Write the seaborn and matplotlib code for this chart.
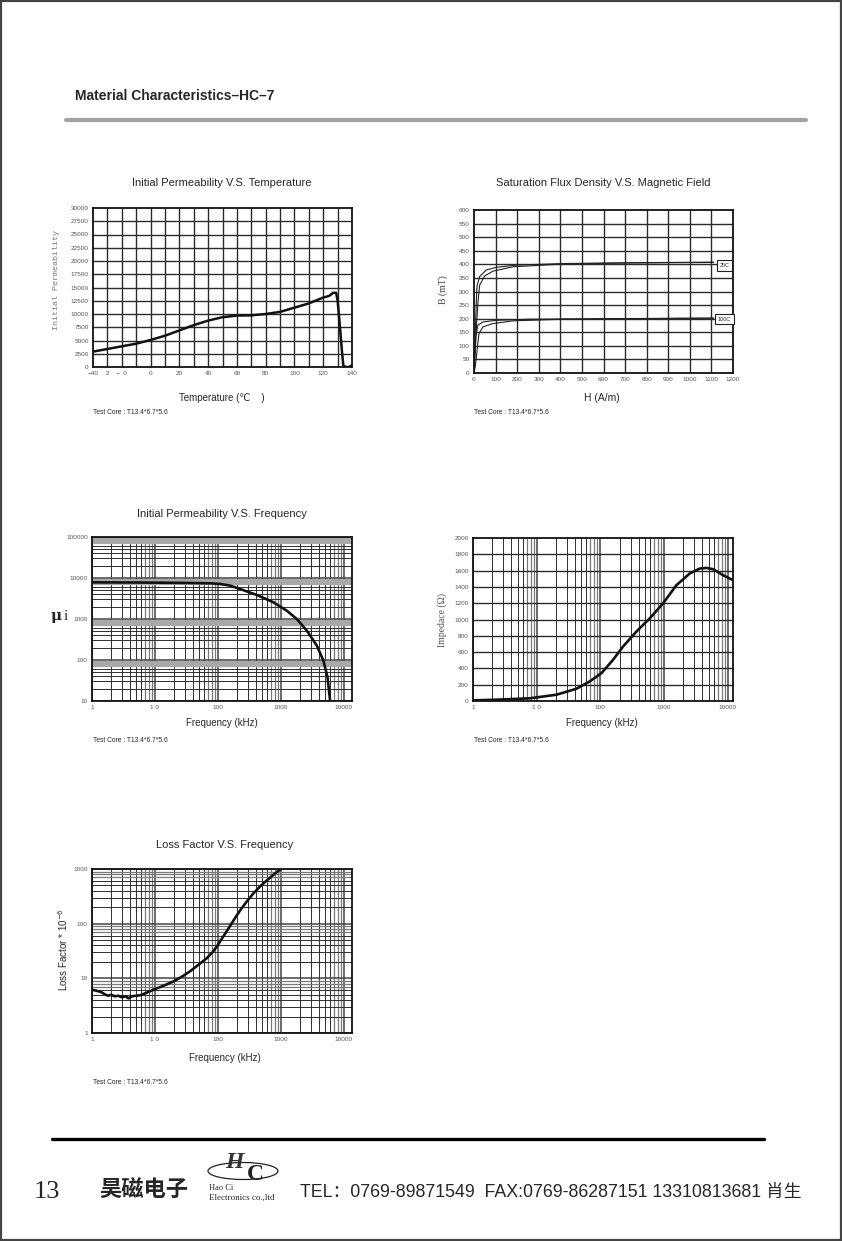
import matplotlib
matplotlib.use('Agg')
import matplotlib.pyplot as plt
from matplotlib.lines import Line2D
from matplotlib.patches import Rectangle, Ellipse
import seaborn as sns

W, H = 842, 1241

# ---- data ----
# Initial permeability vs temperature
temp_c = [-40, -30, -20, -10, 0, 10, 20, 30, 40, 50, 60, 70, 80, 90, 100,
          110, 120, 124, 127, 129, 130, 131.5, 133, 134, 136, 138, 139.5, 140]
perm_t = [2900, 3400, 3900, 4400, 5100, 5900, 6900, 7900, 8750, 9400, 9700,
          9750, 10000, 10400, 11200, 12000, 13100, 13400, 14000, 14000, 12500,
          8000, 3000, 200, 0, 0, 250, 300]

# B-H curves
h_25_out = [0, 4, 8, 11, 14, 26, 57, 103, 196, 412, 721, 1110]
b_25_out = [0, 100, 200, 270, 320, 355, 379, 389, 397, 403, 406, 408]
h_25_in = [0, 6, 12, 18, 26, 49, 88, 181, 412, 721, 1110]
b_25_in = [0, 80, 180, 256, 323, 357, 375, 391, 401, 405, 407]
h_100_out = [0, 3, 8, 18, 42, 103, 258, 600, 1110]
b_100_out = [0, 60, 133, 176, 188, 194, 198, 200, 202]
h_100_in = [0, 6, 11, 23, 42, 88, 181, 412, 1110]
b_100_in = [0, 25, 59, 145, 170, 182, 192, 198, 202]

# Initial permeability vs frequency (kHz)
f_mu = [1, 5.85, 28.5, 80, 109, 157, 226, 416, 765, 1245, 1795, 2590, 3730,
        4750, 5510, 6070]
mu_i = [7830, 7750, 7600, 7400, 7140, 6500, 5380, 3850, 2550, 1590, 1000,
        519, 224, 96, 38, 10]

# Impedance vs frequency (kHz)
f_z = [1, 2.32, 7.77, 20.4, 42, 68, 104, 158, 227, 367, 596, 964, 1563,
       2530, 3630, 4620, 5890, 8450, 12100]
imp_z = [8, 16, 33, 77, 150, 240, 342, 505, 668, 851, 1014, 1197, 1421,
         1564, 1625, 1633, 1617, 1544, 1483]

# Loss factor vs frequency (kHz)
f_lf = [1, 1.2, 1.4, 1.6, 1.8, 2.0, 2.3, 2.6, 3.0, 3.4, 3.8, 4.3, 5, 5.85,
        7.5, 9.5, 14, 19.8, 27, 36, 50, 67, 82, 96, 109, 133, 157, 190, 228,
        288, 360, 469, 600, 765, 1000]
loss_f = [6.2, 5.9, 5.6, 5.1, 4.8, 5.0, 4.7, 4.8, 4.5, 4.7, 4.3, 4.7, 4.8,
          4.9, 5.5, 6.2, 7.4, 8.8, 10.8, 13.4, 18, 23.5, 30, 38, 48, 68, 92,
          130, 178, 255, 350, 481, 620, 788, 1000]

temp_ticks = [-40, -30, -20, 0, 20, 40, 60, 80, 100, 120, 140]
temp_labels = ['\u221240', '2', '\u2212  0', '0', '20', '40', '60', '80',
               '100', '120', '140']
freq_ticks = [1, 10, 100, 1000, 10000]
freq_labels = ['1', '1 0', '100', '1000', '10000']
test_core = 'Test Core : T13.4*6.7*5.6'

sns.set_theme(style='white')
plt.rcParams['font.family'] = ['Liberation Sans', 'DejaVu Sans', 'Noto Sans CJK SC']

fig = plt.figure(figsize=(W / 100, H / 100), dpi=100)
fig.patch.set_facecolor('white')


def px_axes(x0, y0, x1, y1):
    return fig.add_axes([x0 / W, 1 - y1 / H, (x1 - x0) / W, (y1 - y0) / H])


def ftext(x, y, s, **kw):
    kw.setdefault('va', 'center')
    return fig.text(x / W, 1 - y / H, s, **kw)


def fline(x0, x1, y, **kw):
    fig.add_artist(Line2D([x0 / W, x1 / W], [1 - y / H, 1 - y / H], **kw))


def frame(ax):
    for sp in ax.spines.values():
        sp.set_visible(True)
        sp.set_color('#111111')
        sp.set_linewidth(1.3)
        sp.set_zorder(5)
    ax.tick_params(length=0, labelsize=4.6, labelcolor='#555555', pad=3)
    ax.set_xlabel('')
    ax.set_ylabel('')


def lin_grid(ax, xs, ys):
    for v in xs:
        ax.axvline(v, color='#2a2a2a', lw=1.0, zorder=1)
    for v in ys:
        ax.axhline(v, color='#2a2a2a', lw=1.0, zorder=1)


def log_grid(ax, lo, hi, which, band=False):
    line = ax.axvline if which == 'x' else ax.axhline
    for e in range(lo, hi):
        for m in range(1, 10):
            v = m * 10 ** e
            if m == 1:
                line(v, color='#444444', lw=1.1, zorder=1)
            elif m >= 7:
                if band:
                    line(v, color='#a8a8a8', lw=1.6, zorder=1)
                else:
                    line(v, color='#7a7a7a', lw=0.9, zorder=1)
            else:
                line(v, color='#2e2e2e', lw=0.7, zorder=1)
    line(10 ** hi, color='#444444', lw=1.1, zorder=1)


# ---- header ----
ftext(75, 96, 'Material Characteristics\u2013HC\u20137', fontsize=10,
      fontweight='bold')
fline(66, 806, 120, color='#a3a3a3', lw=3)

# ---- chart 1: permeability vs temperature ----
ax1 = px_axes(93, 208, 352, 367)
lin_grid(ax1, range(-30, 140, 10), range(2500, 30000, 2500))
sns.lineplot(x=temp_c, y=perm_t, ax=ax1, color='#111111', lw=1.8,
             estimator=None, sort=False, zorder=4)
ax1.set_xlim(-40, 140)
ax1.set_ylim(0, 30000)
ax1.set_xticks(temp_ticks)
ax1.set_xticklabels(temp_labels)
ax1.set_yticks(range(0, 30001, 2500))
frame(ax1)
ftext(222, 183, 'Initial Permeability V.S. Temperature', fontsize=8, ha='center')
ftext(222, 398, 'Temperature (\u2103    )', fontsize=7, ha='center')
ftext(57, 280, 'Initial Permeability', fontsize=6, rotation=90, ha='center',
      family=['Liberation Mono'], color='#777777')
ftext(93, 412, test_core, fontsize=4.8)

# ---- chart 2: B vs H ----
ax2 = px_axes(474, 210, 733, 373)
lin_grid(ax2, range(100, 1200, 100), range(50, 600, 50))
for hx, by in [(h_25_out, b_25_out), (h_25_in, b_25_in),
               (h_100_out, b_100_out), (h_100_in, b_100_in)]:
    sns.lineplot(x=hx, y=by, ax=ax2, color='#222222', lw=0.8,
                 estimator=None, sort=False, zorder=4)
ax2.set_xlim(0, 1200)
ax2.set_ylim(0, 600)
ax2.set_xticks(range(0, 1201, 100))
ax2.set_yticks(range(0, 601, 50))
frame(ax2)
box = dict(boxstyle='square,pad=0.5', fc='white', ec='#222222', lw=0.8)
ax2.text(1160, 395, '25C', fontsize=4, ha='center', va='center', bbox=box,
         zorder=6, clip_on=False)
ax2.text(1160, 198, '100C', fontsize=4, ha='center', va='center', bbox=box,
         zorder=6, clip_on=False)
ftext(603, 183, 'Saturation Flux Density V.S. Magnetic Field', fontsize=8,
      ha='center')
ftext(602, 398, 'H (A/m)', fontsize=7.5, ha='center')
ftext(443, 290, 'B (mT)', fontsize=7, rotation=90, ha='center',
      family=['Liberation Serif'], color='#444444')
ftext(474, 412, test_core, fontsize=4.8)

# ---- chart 3: permeability vs frequency ----
ax3 = px_axes(92, 537, 352, 701)
ax3.set_xscale('log')
ax3.set_yscale('log')
log_grid(ax3, 0, 4, 'x')
log_grid(ax3, 1, 5, 'y', band=True)
sns.lineplot(x=f_mu, y=mu_i, ax=ax3, color='#111111', lw=1.9,
             estimator=None, sort=False, zorder=4)
ax3.set_xlim(1, 13500)
ax3.set_ylim(10, 100000)
ax3.set_xticks(freq_ticks)
ax3.set_xticklabels(freq_labels)
ax3.set_yticks([10, 100, 1000, 10000, 100000])
ax3.set_yticklabels(['10', '100', '1000', '10000', '100000'])
ax3.minorticks_off()
frame(ax3)
ftext(222, 514, 'Initial Permeability V.S. Frequency', fontsize=8, ha='center')
ftext(222, 723, 'Frequency (kHz)', fontsize=7, ha='center')
ftext(51, 616, '\u03bc', fontsize=11, fontweight='bold', family=['DejaVu Serif'])
ftext(64, 616, 'i', fontsize=11, family=['Liberation Serif'])
ftext(93, 740, test_core, fontsize=4.8)

# ---- chart 4: impedance vs frequency ----
ax4 = px_axes(473, 538, 733, 701)
ax4.set_xscale('log')
log_grid(ax4, 0, 4, 'x')
for v in range(200, 2000, 200):
    ax4.axhline(v, color='#2a2a2a', lw=1.0, zorder=1)
sns.lineplot(x=f_z, y=imp_z, ax=ax4, color='#111111', lw=1.9,
             estimator=None, sort=False, zorder=4)
ax4.set_xlim(1, 12100)
ax4.set_ylim(0, 2000)
ax4.set_xticks(freq_ticks)
ax4.set_xticklabels(freq_labels)
ax4.set_yticks(range(0, 2001, 200))
ax4.minorticks_off()
frame(ax4)
ftext(602, 723, 'Frequency (kHz)', fontsize=7, ha='center')
ftext(442, 620, 'Impedace (\u03a9)', fontsize=7, rotation=90, ha='center',
      family=['Liberation Serif'], color='#555555')
ftext(474, 740, test_core, fontsize=4.8)

# ---- chart 5: loss factor vs frequency ----
ax5 = px_axes(92, 869, 352, 1033)
ax5.set_xscale('log')
ax5.set_yscale('log')
log_grid(ax5, 0, 4, 'x')
log_grid(ax5, 0, 3, 'y')
sns.lineplot(x=f_lf, y=loss_f, ax=ax5, color='#111111', lw=1.9,
             estimator=None, sort=False, zorder=4)
ax5.set_xlim(1, 13500)
ax5.set_ylim(1, 1000)
ax5.set_xticks(freq_ticks)
ax5.set_xticklabels(freq_labels)
ax5.set_yticks([1, 10, 100, 1000])
ax5.set_yticklabels(['1', '10', '100', '1000'])
ax5.minorticks_off()
frame(ax5)
ftext(225, 845, 'Loss Factor V.S. Frequency', fontsize=8, ha='center')
ftext(225, 1058, 'Frequency (kHz)', fontsize=7, ha='center')
ftext(63, 950, 'Loss Factor * 10$^{-6}$', fontsize=7, rotation=90, ha='center')
ftext(93, 1083, test_core, fontsize=4.8)

# ---- footer ----
fline(52, 764, 1139, color='black', lw=2.4)
ftext(34, 1192, '13', fontsize=19, family=['Liberation Serif'])
ftext(99, 1190, '昊磁电子', fontsize=16, fontweight='bold',
      family=['Noto Sans CJK SC'])
fig.add_artist(Ellipse((243 / W, 1 - 1171 / H), 70 / W, 17 / H,
                       fill=False, ec='#222222', lw=0.9))
ftext(234, 1162, 'H', fontsize=17, fontstyle='italic', fontweight='bold',
      family=['Liberation Serif'], ha='center', color='#333333')
ftext(255, 1174, 'C', fontsize=17, fontweight='bold',
      family=['Liberation Serif'], ha='center', color='#222222')
ftext(209, 1188, 'Hao Ci', fontsize=6, family=['Liberation Serif'])
ftext(209, 1198, 'Electronics co.,ltd', fontsize=6.5, family=['Liberation Serif'])
ftext(300, 1193, 'TEL\uff1a0769-89871549  FAX:0769-86287151 13310813681 肖生',
      fontsize=12.8, family=['Liberation Sans', 'Noto Sans CJK SC'])

# page border
fig.add_artist(Rectangle((0.001, 0.001), 0.998, 0.998, fill=False,
                         ec='#444444', lw=1.6, transform=fig.transFigure))

fig.savefig('out.png', dpi=100)
